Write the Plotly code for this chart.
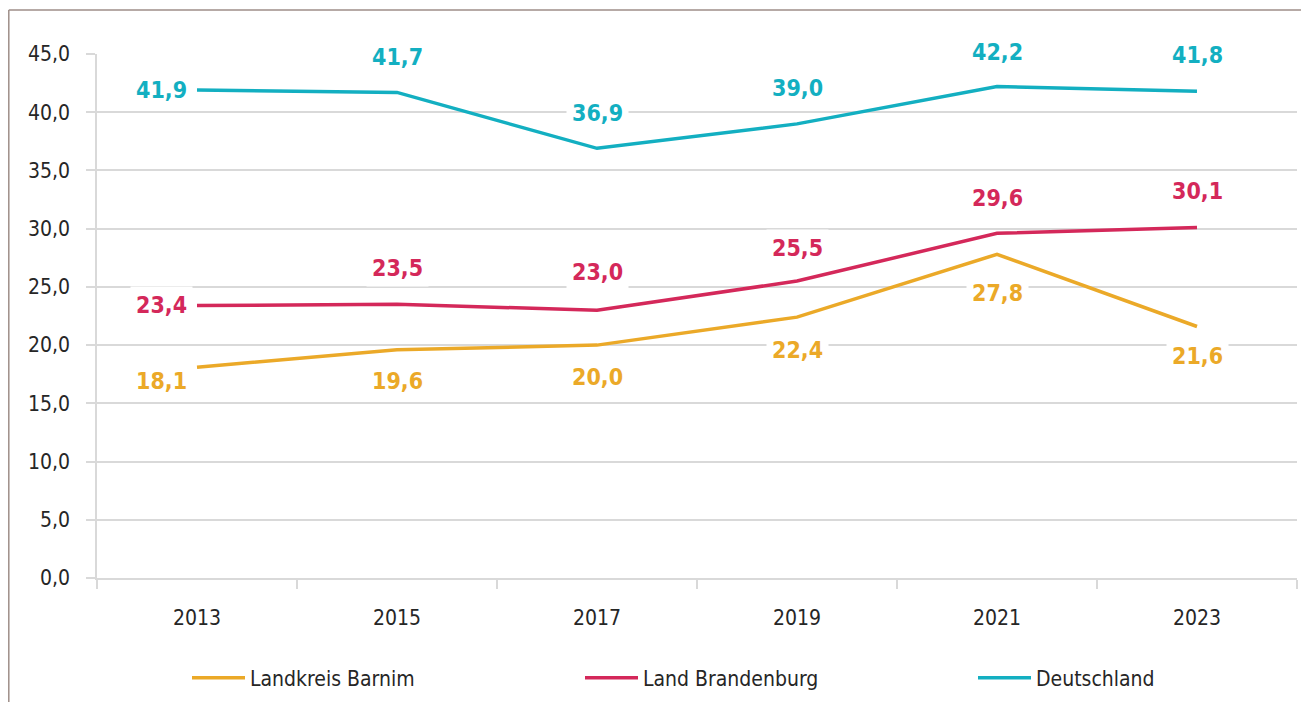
import plotly.graph_objects as go

years = ["2013", "2015", "2017", "2019", "2021", "2023"]
barnim = [18.1, 19.6, 20.0, 22.4, 27.8, 21.6]
brandenburg = [23.4, 23.5, 23.0, 25.5, 29.6, 30.1]
deutschland = [41.9, 41.7, 36.9, 39.0, 42.2, 41.8]
y_ticks = [0, 5, 10, 15, 20, 25, 30, 35, 40, 45]

FONT = "DejaVu Sans Condensed, Liberation Sans Narrow, sans-serif"
C_BAR = "#EBA928"
C_BRA = "#D4285A"
C_DEU = "#13AFC1"
GRID = "#D9D9D9"
TXT = "#262626"

# label offsets (px) relative to each point: (dx, dy up)
series = [
    ("Landkreis Barnim", barnim, C_BAR,
     [(-36, -14), (0, -31), (0, -32), (0, -33), (0, -39), (0, -30)]),
    ("Land Brandenburg", brandenburg, C_BRA,
     [(-36, 1), (0, 36), (0, 38), (0, 33), (0, 35), (0, 37)]),
    ("Deutschland", deutschland, C_DEU,
     [(-36, 0), (0, 35), (0, 35), (0, 36), (0, 35), (0, 36)]),
]

fig = go.Figure()
annotations = []
for name, vals, col, offs in series:
    fig.add_trace(go.Scatter(
        x=years, y=vals, name=name, mode="lines",
        line=dict(color=col, width=3.5),
        hoverinfo="skip",
    ))
    for i, (v, (dx, dy)) in enumerate(zip(vals, offs)):
        annotations.append(dict(
            x=i, y=v, xref="x", yref="y",
            text=f"{v:.1f}".replace(".", ","),
            showarrow=False, xshift=dx, yshift=dy,
            font=dict(family=FONT, size=23, color=col, weight="bold"),
            bgcolor="white", borderpad=5,
        ))

# page has an 8px body margin; figure is sized so that the plot lands where the reference has it
fig.update_layout(
    width=1301, height=694,
    margin=dict(l=89, r=12, t=46, b=124, autoexpand=False),
    paper_bgcolor="white", plot_bgcolor="white",
    font=dict(family=FONT, color=TXT),
    annotations=annotations,
    showlegend=True,
    legend=dict(
        orientation="h", x=0.075, xanchor="left", y=-0.191, yanchor="middle",
        entrywidth=325, entrywidthmode="pixels", itemwidth=53,
        font=dict(family=FONT, size=21, color=TXT),
        bgcolor="rgba(0,0,0,0)",
    ),
    xaxis=dict(
        type="category", range=[-0.5, 5.5], tickson="boundaries",
        showgrid=False, showline=True, linecolor=GRID, linewidth=1.5,
        ticks="outside", ticklen=9, tickcolor=GRID, tickwidth=1.5,
        tickfont=dict(family=FONT, size=21, color=TXT),
        ticklabelstandoff=20,
    ),
    yaxis=dict(
        range=[0, 45], tickvals=y_ticks,
        ticktext=[f"{t:.1f}".replace(".", ",") for t in y_ticks],
        showgrid=True, gridcolor=GRID, gridwidth=1.5,
        showline=True, linecolor=GRID, linewidth=1.5,
        ticks="outside", ticklen=9, tickcolor=GRID, tickwidth=1.5,
        tickfont=dict(family=FONT, size=21, color=TXT),
        zeroline=False, ticklabelstandoff=12,
    ),
    shapes=[
        dict(type="line", xref="paper", yref="paper",
             x0=-0.0735, x1=-0.0735, y0=1.084, y1=-0.3,
             line=dict(color="#9E8E88", width=1.5)),
        dict(type="line", xref="paper", yref="paper",
             x0=-0.0735, x1=1.05, y0=1.084, y1=1.084,
             line=dict(color="#9E8E88", width=1.5)),
    ],
)

fig.write_html("out.html")
